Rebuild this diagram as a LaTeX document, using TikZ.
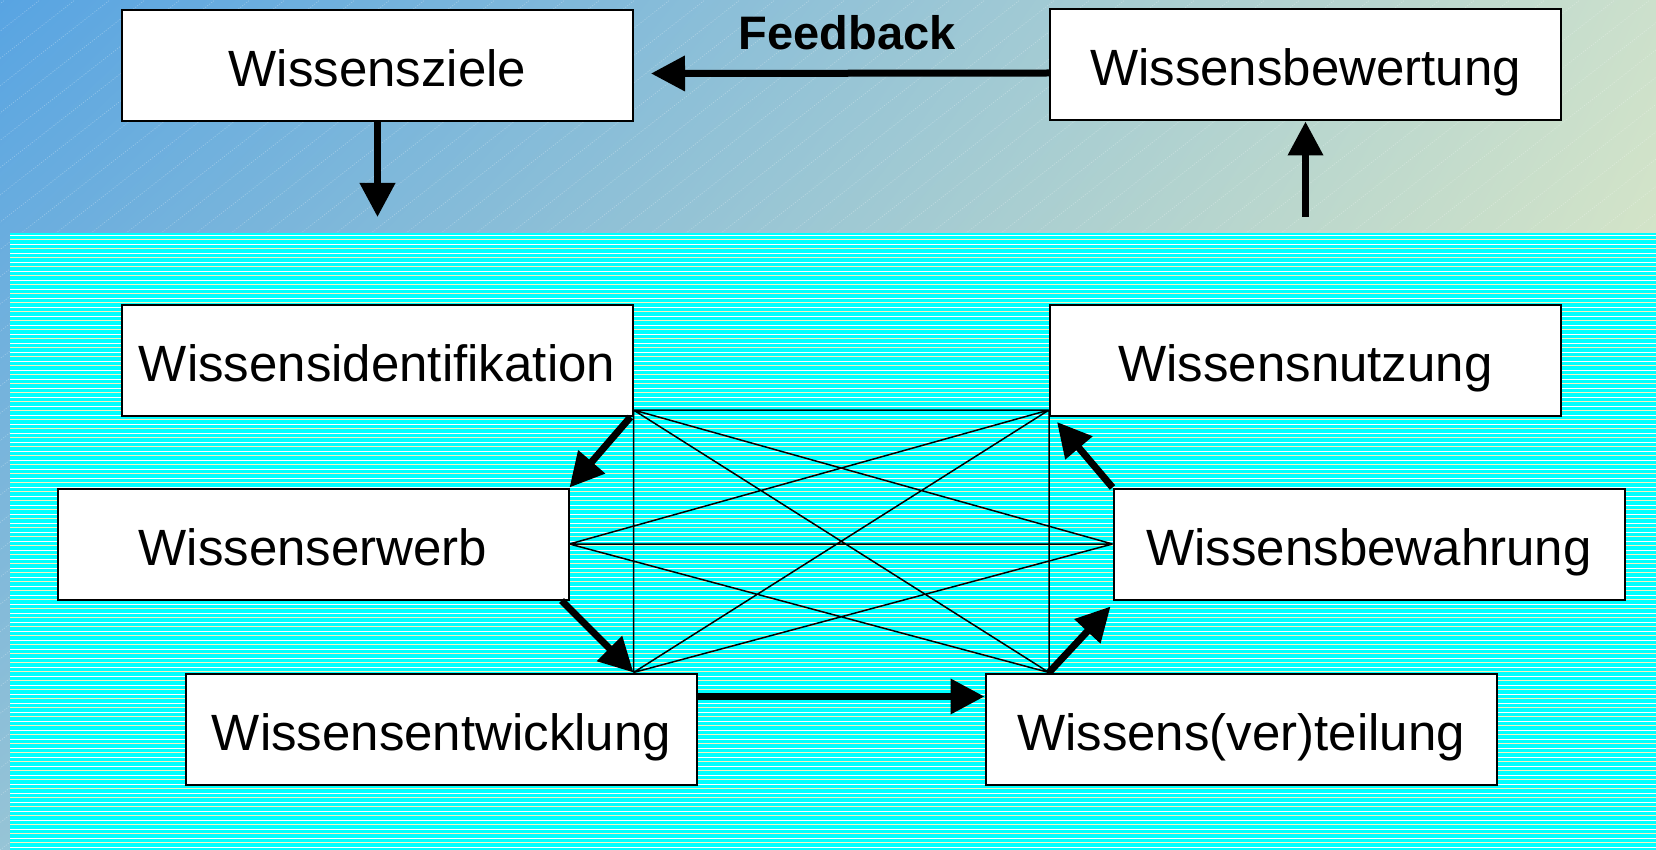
\documentclass[tikz,border=0pt]{standalone}
\usepackage{fontspec}
\setmainfont{Liberation Sans}
\usetikzlibrary{arrows.meta,shadings}
\definecolor{bgtl}{RGB}{88,164,226}
\definecolor{bgtr}{RGB}{204,224,204}
\definecolor{bgbl}{RGB}{150,196,214}
\definecolor{bgbr}{RGB}{230,238,188}
\definecolor{cyanbg}{RGB}{0,255,255}
\definecolor{stripey}{RGB}{250,240,190}
\begin{document}
\begin{tikzpicture}[x=1pt,y=-1pt,
  box/.style={draw=black,line width=2pt,fill=white,minimum width=511pt,minimum height=111pt,inner sep=0pt,text height=46pt,text depth=4pt,font=\fontsize{51}{60}\selectfont},
  bigarrow/.style={line width=7pt,-{Triangle[length=34pt,width=34pt]}},
  thinline/.style={line width=1.5pt,black}]
\useasboundingbox (0,0) rectangle (1656,850);
% background
\shade[upper left=bgtl, upper right=bgtr, lower left=bgbl, lower right=bgbr] (0,0) rectangle (1656,850);
\begin{scope}
  \clip (0,0) rectangle (1656,850);
  \foreach \x in {-1120,-1085,...,1660} {
    \draw[white, opacity=0.3, line width=0.7pt, dash pattern=on 1pt off 1.5pt] (\x,850) -- ({\x+1090},0);
  }
\end{scope}
\fill[cyanbg] (10,233) rectangle (1656,850);
\foreach \k in {0,...,68} {
  \draw[white, line width=0.6pt] (10,{235+9*\k}) -- (1656,{235+9*\k});
  \draw[stripey, line width=0.6pt] (10,{239.5+9*\k}) -- (1656,{239.5+9*\k});
}
% boxes
\node[box] (ziele) at (377.5,65.5) {Wissensziele};
\node[box] (bewert) at (1305.5,65) {Wissensbewertung};
\node[box] (ident) at (377,360.5) {Wissensidentifikation};
\node[box] (nutz) at (1305.5,360.5) {Wissensnutzung};
\node[box] (erwerb) at (313,544) {Wissenserwerb};
\node[box] (bewahr) at (1369,544) {Wissensbewahrung};
\node[box] (entw) at (441.5,729) {Wissensentwicklung};
\node[box] (vert) at (1241,729) {Wissens(ver)teilung};
\node[font=\bfseries\fontsize{47}{56}\selectfont, anchor=base, inner sep=0pt] (fb) at (847,50) {Feedback};
% network points
\coordinate (A) at ([yshift=7pt]ident.south east);
\coordinate (B) at ([yshift=7pt]nutz.south west);
\coordinate (C) at (erwerb.east);
\coordinate (D) at (bewahr.west);
\coordinate (E) at (A |- entw.north);
\coordinate (F) at (B |- vert.north);
\draw[thinline] (A) -- (B) (A) -- (E) (B) -- (F)
  (A) -- (D) (A) -- (F)
  (C) -- (B) (C) -- (D) (C) -- (F)
  (E) -- (B) (E) -- (D);
% thick arrows
\coordinate (zend) at (377.5,217);
\coordinate (bstart) at (1305.5,217);
\draw[bigarrow] (ziele.south) -- (zend);
\draw[bigarrow] (bstart) -- (bewert.south);
\draw[bigarrow] ([yshift=-8pt]bewert.west) -- ([xshift=17pt,yshift=-8pt]ziele.east);
\draw[bigarrow] ([xshift=-3pt]ident.south east) -- (erwerb.north east);
\draw[bigarrow] ([xshift=-8pt]erwerb.south east) -- (E);
\draw[bigarrow] ([yshift=-24pt]entw.north east) -- ([yshift=-24pt]vert.north west);
\draw[bigarrow] (F) -- ([xshift=-2pt,yshift=-6pt]bewahr.south west);
\draw[bigarrow] (bewahr.north west) -- ([xshift=8pt,yshift=-5pt]nutz.south west);
\end{tikzpicture}
\end{document}
